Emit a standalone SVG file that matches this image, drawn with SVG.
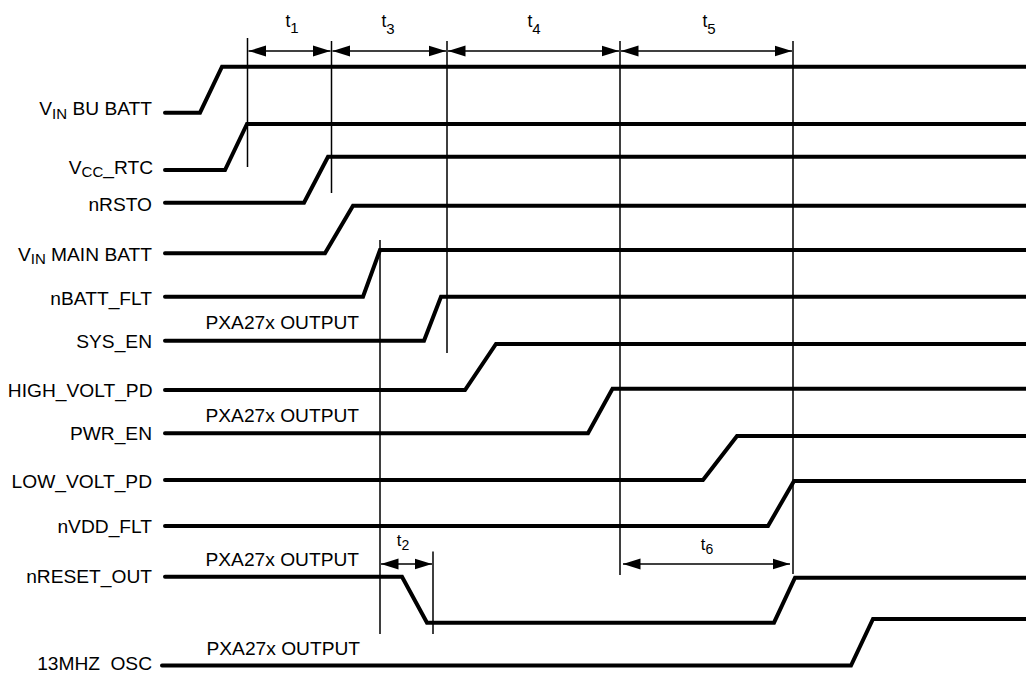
<svg xmlns="http://www.w3.org/2000/svg" width="1026" height="673" viewBox="0 0 1026 673">
<defs>
<style>
text{font-family:"Liberation Sans",Arial,sans-serif;fill:#000}
.lbl{font-size:19.2px;text-anchor:end}
.note{font-size:19.2px}
.sub{font-size:15px}
.tl{font-size:17.5px;text-anchor:middle}
.ts{font-size:15px}
.tl2{font-size:16.5px;text-anchor:middle}
.ts2{font-size:14px}
.sig{fill:none;stroke:#000;stroke-width:4;stroke-linecap:round;stroke-linejoin:miter}
.vl{fill:none;stroke:#000;stroke-width:1.5}
.dim{fill:none;stroke:#000;stroke-width:1.3;marker-start:url(#ah);marker-end:url(#ah)}
</style>
<marker id="ah" markerUnits="userSpaceOnUse" markerWidth="18" markerHeight="12" viewBox="0 0 18 12" refX="17.5" refY="6" orient="auto-start-reverse">
<path d="M0,0.5 L17.5,6 L0,11.5 z" fill="#000"/>
</marker>
</defs>
<rect width="1026" height="673" fill="#fff"/>

<g id="vin-bu-batt">
<text class="lbl" x="152" y="115">V<tspan class="sub" dy="3.5">IN</tspan><tspan dy="-3.5"> BU BATT</tspan></text>
<path class="sig" d="M165,112.7 H200 L222,66.7 H1030"/>
</g>
<g id="vcc-rtc">
<text class="lbl" x="153" y="174">V<tspan class="sub" dy="2.5">CC</tspan><tspan dy="-2.5">_RTC</tspan></text>
<path class="sig" d="M165,170 H225 L247,124 H1030"/>
</g>
<g id="nrsto">
<text class="lbl" x="152" y="211">nRSTO</text>
<path class="sig" d="M165,202.7 H304 L328,156.7 H1030"/>
</g>
<g id="vin-main-batt">
<text class="lbl" x="152" y="260.5">V<tspan class="sub" dy="3.5">IN</tspan><tspan dy="-3.5"> MAIN BATT</tspan></text>
<path class="sig" d="M165,253.3 H325 L353,205.7 H1030"/>
</g>
<g id="nbatt-flt">
<text class="lbl" x="152" y="305">nBATT_FLT</text>
<path class="sig" d="M165,296.7 H363 L380,250 H1030"/>
</g>
<g id="sys-en">
<text class="note" x="205.5" y="329">PXA27x OUTPUT</text>
<text class="lbl" x="152" y="348.3">SYS_EN</text>
<path class="sig" d="M165,340.7 H424 L441,296.7 H1030"/>
</g>
<g id="high-volt-pd">
<text class="lbl" x="152.5" y="396.7">HIGH_VOLT_PD</text>
<path class="sig" d="M165,390 H465 L496,344 H1030"/>
</g>
<g id="pwr-en">
<text class="note" x="205.5" y="422.3">PXA27x OUTPUT</text>
<text class="lbl" x="152" y="440">PWR_EN</text>
<path class="sig" d="M165,433.3 H588 L612.5,388.7 H1030"/>
</g>
<g id="low-volt-pd">
<text class="lbl" x="152" y="487.7">LOW_VOLT_PD</text>
<path class="sig" d="M165,480 H703 L737,436 H1030"/>
</g>
<g id="nvdd-flt">
<text class="lbl" x="152" y="533.3">nVDD_FLT</text>
<path class="sig" d="M165,526 H768 L794,481 H1030"/>
</g>
<g id="nreset-out">
<text class="note" x="205.5" y="566">PXA27x OUTPUT</text>
<text class="lbl" x="152" y="583.3">nRESET_OUT</text>
<path class="sig" d="M165,576.7 H402 L427,622.7 H774 L795,577.7 H1030"/>
</g>
<g id="osc-13mhz">
<text class="note" x="206.5" y="655">PXA27x OUTPUT</text>
<text class="lbl" x="152" y="670" word-spacing="5">13MHZ OSC</text>
<path class="sig" d="M162,665.5 H851 L873,619 H1030"/>
</g>

<g id="timing">
<path class="vl" d="M247.5,38 V167 M331.5,41 V193 M447,41 V353 M620,41 V575 M793,41 V574 M380,240 V634 M433,551.5 V634"/>
<path class="dim" d="M248.5,51 H330.5"/>
<path class="dim" d="M332.5,51 H446"/>
<path class="dim" d="M448,51 H619"/>
<path class="dim" d="M621,51 H792"/>
<path class="dim" d="M381,564 H432"/>
<path class="dim" d="M623,564 H790"/>
<text class="tl" x="292" y="26.7">t<tspan class="ts" dy="6.5">1</tspan></text>
<text class="tl" x="388" y="27.3">t<tspan class="ts" dy="6.5">3</tspan></text>
<text class="tl" x="534" y="27.3">t<tspan class="ts" dy="6.5">4</tspan></text>
<text class="tl" x="709" y="27.3">t<tspan class="ts" dy="6.5">5</tspan></text>
<text class="tl2" x="403" y="546">t<tspan class="ts2" dy="4">2</tspan></text>
<text class="tl2" x="707" y="550">t<tspan class="ts2" dy="4">6</tspan></text>
</g>
</svg>
